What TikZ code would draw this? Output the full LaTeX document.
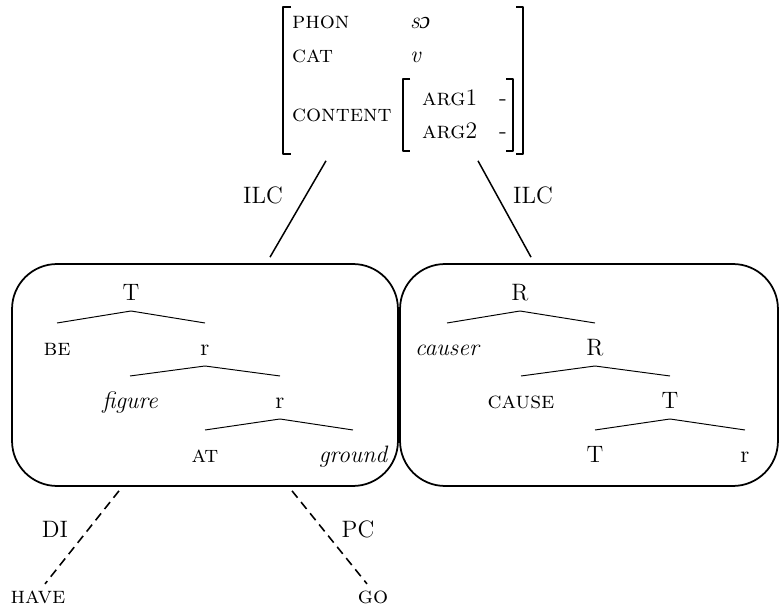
\documentclass[tikz,border=0pt]{standalone}
\usepackage{fontspec}
\newfontfamily\ipafont{Liberation Serif}
\usetikzlibrary{calc,positioning}

\tikzstyle{lbl} = [inner sep=1pt, text height=9.5pt, text depth=3pt,
font=\fontsize{13.5}{16}\selectfont]
\tikzstyle{feat} = [lbl, anchor=west]
\tikzstyle{frame} = [draw, line width=1pt, rounded corners=0.9cm,
minimum height=4.44cm]
\tikzstyle{branch} = [line width=0.55pt]
\tikzstyle{ilc} = [line width=0.85pt]
\tikzstyle{link} = [line width=0.9pt, dash pattern=on 5pt off 3.2pt]

% ветви дерева: от вершины к дочернему узлу, с зазором
\newcommand{\branch}[2]{\draw[branch] ($(#1)+(0,16)$) -- ($(#2)+(0,-27)$);}

\begin{document}
\begin{tikzpicture}[x=0.02cm, y=-0.02cm, line join=round]
	% единица = 1 пиксель, ось y вниз
	\useasboundingbox (0,0) rectangle (782,607);
	
	% ---- 1. AVM ----
	\node[minimum width=4.8cm, minimum height=2.94cm, inner sep=0] (avm) at (403,81) {};
	\node[feat] (phon) at (290,23) {\textsc{phon}};
	\node[feat] (cat) at (290,57) {\textsc{cat}};
	\node[feat] (cont) at (290,116) {\textsc{content}};
	\node[feat] (vphon) at (408,23) {\itshape s{\ipafont ɔ}};
	\node[feat] (vcat) at (408,57) {\itshape v};
	\node[feat] (arg1) at (420,100) {\textsc{arg}1};
	\node[feat] (arg2) at (420,133) {\textsc{arg}2};
	\node[lbl] (val1) at (503,100) {-};
	\node[lbl] (val2) at (503,133) {-};
	% скобки
	\draw[line width=1pt] (291,7) -- (283,7) -- (283,154) -- (291,154);
	\draw[line width=1pt] (516,7) -- (523,7) -- (523,154) -- (516,154);
	\draw[line width=0.9pt] (410,79) -- (403,79) -- (403,151) -- (410,151);
	\draw[line width=0.9pt] (506,79) -- (513,79) -- (513,151) -- (506,151);
	
	% ---- 2. Рамки ----
	\node[frame, minimum width=7.72cm] (lbox) at (205,375) {};
	\node[frame, minimum width=7.56cm] (rbox) at (589,375) {};
	
	% ---- 3. ILC ----
	\draw[ilc] ($(avm.south)+(-77,6)$) -- ($(lbox.north)+(65,-6)$);
	\draw[ilc] ($(avm.south)+(75,6)$) -- ($(rbox.north)+(-58,-6)$);
	\node[lbl] (ilcl) at (263,198) {ILC};
	\node[lbl] (ilcr) at (533,198) {ILC};
	
	% ---- 4. Левое дерево ----
	\node[lbl] (lT) at (131,295) {T};
	\node[lbl] (lbe) at (57,350) {\textsc{be}};
	\node[lbl] (lr1) at (205,350) {r};
	\node[lbl] (lfig) at (130,403) {\itshape figure};
	\node[lbl] (lr2) at (280,403) {r};
	\node[lbl] (lat) at (205,457) {\textsc{at}};
	\node[lbl] (lgr) at (353,457) {\itshape ground};
	\branch{lT}{lbe} \branch{lT}{lr1}
	\branch{lr1}{lfig} \branch{lr1}{lr2}
	\branch{lr2}{lat} \branch{lr2}{lgr}
	
	% ---- 5. Правое дерево ----
	\node[lbl] (rR1) at (520,295) {R};
	\node[lbl] (rcau) at (447,350) {\itshape causer};
	\node[lbl] (rR2) at (595,350) {R};
	\node[lbl] (rcause) at (521,403) {\textsc{cause}};
	\node[lbl] (rT1) at (670,403) {T};
	\node[lbl] (rT2) at (595,457) {T};
	\node[lbl] (rr) at (745,457) {r};
	\branch{rR1}{rcau} \branch{rR1}{rR2}
	\branch{rR2}{rcause} \branch{rR2}{rT1}
	\branch{rT1}{rT2} \branch{rT1}{rr}
	
	% ---- 6. DI и PC ----
	\node[lbl] (have) at (38,598) {\textsc{have}};
	\node[lbl] (go) at (373,598) {\textsc{go}};
	\draw[link] ($(lbox.south)+(-86,4)$) -- ($(have.north)+(7,-1)$);
	\draw[link] ($(lbox.south)+(87,4)$) -- ($(go.north)+(-6,-1)$);
	\node[lbl] (di) at (55,532) {DI};
	\node[lbl] (pc) at (358,532) {PC};
\end{tikzpicture}
\end{document}
